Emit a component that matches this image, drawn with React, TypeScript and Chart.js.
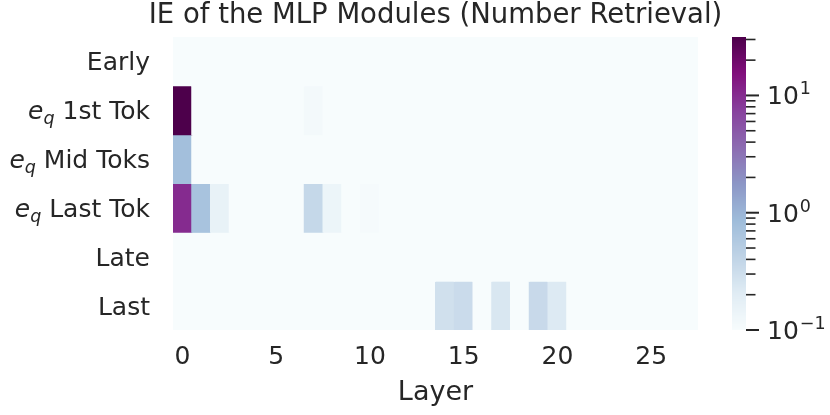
import React, { useEffect, useRef } from 'react';
import { Chart, registerables } from 'chart.js';

Chart.register(...registerables);

// ---------- data ----------
const layers = ['0','1','2','3','4','5','6','7','8','9','10','11','12','13','14','15','16','17','18','19','20','21','22','23','24','25','26','27'];
const rowLabels = ['Early', 'e_q 1st Tok', 'e_q Mid Toks', 'e_q Last Tok', 'Late', 'Last'];

const earlyVals =   [0.04,0.03,0.03,0.02,0.02,0.03,0.02,0.03,0.02,0.02,0.03,0.02,0.02,0.02,0.03,0.02,0.02,0.03,0.02,0.02,0.03,0.02,0.02,0.02,0.02,0.02,0.02,0.02];
const firstTokVals = [31.5,0.05,0.06,0.04,0.03,0.04,0.05,0.115,0.05,0.04,0.04,0.03,0.03,0.03,0.04,0.03,0.03,0.04,0.03,0.03,0.03,0.03,0.03,0.03,0.02,0.02,0.02,0.02];
const midToksVals =  [0.78,0.05,0.04,0.03,0.03,0.03,0.03,0.05,0.04,0.03,0.03,0.03,0.03,0.03,0.03,0.03,0.03,0.03,0.03,0.03,0.03,0.03,0.03,0.03,0.02,0.02,0.02,0.02];
const lastTokVals =  [10.2,0.70,0.16,0.08,0.06,0.06,0.07,0.37,0.14,0.07,0.107,0.06,0.05,0.05,0.05,0.05,0.05,0.05,0.05,0.05,0.05,0.05,0.04,0.04,0.04,0.03,0.03,0.03];
const lateVals =     [0.05,0.04,0.04,0.03,0.03,0.03,0.03,0.04,0.03,0.03,0.03,0.03,0.03,0.03,0.04,0.04,0.03,0.04,0.03,0.04,0.03,0.03,0.03,0.03,0.03,0.02,0.02,0.02];
const lastVals =     [0.04,0.04,0.05,0.03,0.03,0.03,0.03,0.04,0.03,0.03,0.03,0.03,0.04,0.06,0.29,0.33,0.08,0.24,0.07,0.35,0.22,0.06,0.05,0.04,0.04,0.03,0.03,0.03];

const rowValues = [earlyVals, firstTokVals, midToksVals, lastTokVals, lateVals, lastVals];

const colorMin = 0.1;
const colorbarMajorTicks = [0.1, 1, 10];
const colorbarMajorExps = ['−1', '0', '1'];

// ---------- colour map (matplotlib BuPu) ----------
const BUPU = ['#f7fcfd', '#e0ecf4', '#bfd3e6', '#9ebcda', '#8c96c6', '#8c6bb1', '#88419d', '#810f7c', '#4d004b'];
const hexRgb = (h: string) => [parseInt(h.slice(1, 3), 16), parseInt(h.slice(3, 5), 16), parseInt(h.slice(5, 7), 16)];
const BUPU_RGB = BUPU.map(hexRgb);

function cmap(v: number, vmin: number, vmax: number): string {
  const lv = Math.log10(Math.max(v, 1e-9));
  let t = (lv - Math.log10(vmin)) / (Math.log10(vmax) - Math.log10(vmin));
  t = Math.min(1, Math.max(0, t));
  const p = t * (BUPU_RGB.length - 1);
  const i = Math.min(BUPU_RGB.length - 2, Math.floor(p));
  const f = p - i;
  const a = BUPU_RGB[i], b = BUPU_RGB[i + 1];
  const c = a.map((x, k) => Math.round(x + (b[k] - x) * f));
  return `rgb(${c[0]},${c[1]},${c[2]})`;
}

const FONT = '"DejaVu Sans", sans-serif';
const TEXT = '#262626';

export default function App() {
  const ref = useRef<HTMLCanvasElement | null>(null);

  useEffect(() => {
    if (!ref.current) return;
    const vmax = Math.max(...rowValues.flat());

    const overlay = {
      id: 'overlay',
      afterDraw(chart: any) {
        const ctx = chart.ctx as CanvasRenderingContext2D;
        const area = chart.chartArea;
        const ys = chart.scales.y;
        const y2 = chart.scales.y2;
        ctx.save();

        // title
        ctx.fillStyle = TEXT;
        ctx.font = `27.5px ${FONT}`;
        ctx.textAlign = 'center';
        ctx.textBaseline = 'alphabetic';
        ctx.fillText('IE of the MLP Modules (Number Retrieval)', (area.left + area.right) / 2, 23);

        // row labels
        const xr = area.left - 23;
        rowLabels.forEach((lab, i) => {
          const base = ys.getPixelForValue(i) + 9;
          ctx.textAlign = 'right';
          if (lab.startsWith('e_q ')) {
            const rest = lab.slice(4);
            ctx.font = `25px ${FONT}`;
            ctx.fillText(rest, xr, base);
            let x = xr - ctx.measureText(rest).width - ctx.measureText(' ').width;
            ctx.font = `italic 17.5px ${FONT}`;
            ctx.fillText('q', x, base + 5);
            x -= ctx.measureText('q').width;
            ctx.font = `italic 25px ${FONT}`;
            ctx.fillText('e', x, base);
          } else {
            ctx.font = `25px ${FONT}`;
            ctx.fillText(lab, xr, base);
          }
        });

        // colorbar
        const cbL = area.right + 34, cbW = 14;
        for (let py = Math.floor(y2.top); py < Math.ceil(y2.bottom); py++) {
          const v = y2.getValueForPixel(py + 0.5);
          ctx.fillStyle = cmap(v, colorMin, vmax);
          ctx.fillRect(cbL, py, cbW, 1);
        }
        ctx.strokeStyle = TEXT;
        (y2.ticks as any[]).forEach((t) => {
          const v = t.value;
          const e = Math.floor(Math.log10(v) + 1e-9);
          const m = v / Math.pow(10, e);
          if (Math.abs(m - Math.round(m)) > 1e-6) return;
          const major = colorbarMajorTicks.some((mv) => Math.abs(mv - v) < 1e-9);
          const py = y2.getPixelForValue(v);
          ctx.lineWidth = major ? 2 : 1.6;
          ctx.beginPath();
          ctx.moveTo(cbL + cbW, py);
          ctx.lineTo(cbL + cbW + (major ? 13 : 9.5), py);
          ctx.stroke();
        });

        // colorbar labels 10^k
        ctx.fillStyle = TEXT;
        ctx.textAlign = 'left';
        colorbarMajorTicks.forEach((v, k) => {
          const py = y2.getPixelForValue(v);
          const base = py + 9;
          const x0 = cbL + cbW + 21;
          ctx.font = `25px ${FONT}`;
          ctx.fillText('10', x0, base);
          const w = ctx.measureText('10').width;
          ctx.font = `17.5px ${FONT}`;
          ctx.fillText(colorbarMajorExps[k], x0 + w + 1, base - 10);
        });
        ctx.restore();
      },
    };

    const chart = new Chart(ref.current, {
      type: 'bar',
      data: {
        labels: layers,
        datasets: rowValues.map((vals, r) => ({
          label: rowLabels[r],
          data: vals.map(() => [r - 0.5, r + 0.5]),
          backgroundColor: vals.map((v) => cmap(v, colorMin, vmax)),
          borderWidth: 0,
          barPercentage: 1,
          categoryPercentage: 1,
          grouped: false,
          inflateAmount: 0.5,
          yAxisID: 'y',
        })) as any,
      },
      options: {
        responsive: false,
        animation: false,
        devicePixelRatio: 1,
        layout: { padding: { top: 37, left: 0, right: 0, bottom: 0 } },
        plugins: { legend: { display: false }, tooltip: { enabled: false }, title: { display: false } },
        scales: {
          x: {
            type: 'category',
            grid: { display: false, drawTicks: false },
            border: { display: false },
            ticks: {
              autoSkip: false,
              maxRotation: 0,
              minRotation: 0,
              padding: 12,
              color: TEXT,
              font: { size: 25, family: FONT },
              callback: (_v: any, i: number) => (i % 5 === 0 ? layers[i] : ''),
            },
            title: { display: true, text: 'Layer', color: TEXT, font: { size: 27, family: FONT }, padding: { top: 0, bottom: 6 } },
            afterFit: (s: any) => { s.height = 85; s.paddingLeft = 0; s.paddingRight = 0; },
          },
          y: {
            type: 'linear',
            min: -0.5,
            max: 5.5,
            reverse: true,
            afterBuildTicks: (s: any) => { s.ticks = rowLabels.map((_l, i) => ({ value: i })); },
            ticks: { display: false },
            grid: { display: false, drawTicks: false },
            border: { display: false },
            afterFit: (s: any) => { s.width = 173; s.paddingTop = 0; s.paddingBottom = 0; },
          },
          y2: {
            type: 'logarithmic',
            position: 'right',
            display: true,
            min: colorMin,
            max: vmax,
            grid: { display: false, drawTicks: false },
            border: { display: false },
            ticks: { display: false, autoSkip: false },
            afterFit: (s: any) => { s.width = 132; s.paddingTop = 0; s.paddingBottom = 0; },
          },
        },
      } as any,
      plugins: [overlay],
    });
    return () => chart.destroy();
  }, []);

  return (
    <div style={{ position: 'absolute', left: 0, top: 0, width: 830, height: 415, background: '#fff' }}>
      <canvas ref={ref} width={830} height={415} />
    </div>
  );
}
